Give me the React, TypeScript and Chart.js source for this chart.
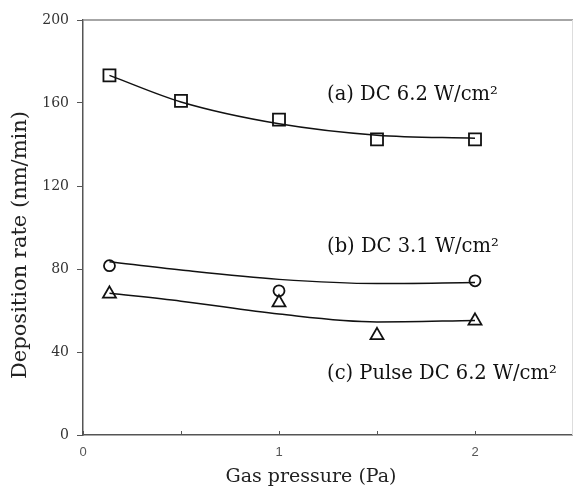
import React, { useEffect, useRef } from "react";
import { Chart, registerables } from "chart.js";

Chart.register(...registerables);

// Measured points
const pressureA = [0.135, 0.5, 1.0, 1.5, 2.0];
const rateA = [173.3, 161, 152, 142.5, 142.5];
const pressureB = [0.135, 1.0, 2.0];
const rateB = [81.6, 69.5, 74.3];
const pressureC = [0.135, 1.0, 1.5, 2.0];
const rateC = [68, 63.8, 48, 55];

// Fitted curves
const fitX = [0.135, 0.5, 1.0, 1.5, 2.0];
const fitA = [173.3, 160.5, 150, 144.5, 143];
const fitB = [83.5, 79.5, 75, 73, 73.5];
const fitC = [68.3, 64.5, 58.3, 54.5, 55.2];

// Labels
const seriesLabels = ["(a) DC 6.2 W/cm²", "(b) DC 3.1 W/cm²", "(c) Pulse DC 6.2 W/cm²"];
const labelX = [1.245, 1.245, 1.245];
const labelY = [163.9, 90.6, 29.4];
const xTitle = "Gas pressure (Pa)";
const yTitle = "Deposition rate (nm/min)";
const xTickValues = [0, 1, 2];
const yTickValues = [0, 40, 80, 120, 160, 200];

const SERIF = "'DejaVu Serif', 'Liberation Serif', serif";

const pts = (xs: number[], ys: number[]) => xs.map((x, i) => ({ x, y: ys[i] }));

const overlay = {
  id: "overlay",
  afterDraw(chart: any) {
    const { ctx, chartArea: a, scales } = chart;
    const xs = scales.x;
    const ys = scales.y;
    ctx.save();
    // frame top/right
    ctx.strokeStyle = "#888";
    ctx.lineWidth = 1.5;
    ctx.beginPath();
    ctx.moveTo(a.left, a.top);
    ctx.lineTo(a.right, a.top);
    ctx.stroke();
    ctx.strokeStyle = "#ddd";
    ctx.lineWidth = 1;
    ctx.beginPath();
    ctx.moveTo(a.right - 0.5, a.top);
    ctx.lineTo(a.right - 0.5, a.bottom);
    ctx.stroke();
    // x inward ticks
    ctx.strokeStyle = "#555";
    ctx.lineWidth = 1;
    for (const t of xs.ticks) {
      const px = Math.round(xs.getPixelForValue(t.value)) + 0.5;
      ctx.beginPath();
      ctx.moveTo(px, a.bottom);
      ctx.lineTo(px, a.bottom - 4);
      ctx.stroke();
    }
    // series labels
    ctx.fillStyle = "#111";
    ctx.font = `19.5px ${SERIF}`;
    ctx.textAlign = "left";
    ctx.textBaseline = "middle";
    seriesLabels.forEach((s, i) => {
      ctx.fillText(s, xs.getPixelForValue(labelX[i]), ys.getPixelForValue(labelY[i]));
    });
    // axis titles
    ctx.font = `19px ${SERIF}`;
    ctx.fillStyle = "#222";
    ctx.textAlign = "center";
    ctx.fillText(xTitle, a.left + 228, 477);
    ctx.translate(21, 245);
    ctx.rotate(-Math.PI / 2);
    ctx.font = `21px ${SERIF}`;
    ctx.fillText(yTitle, 0, 0);
    ctx.restore();
  },
};

export default function App() {
  const ref = useRef<HTMLCanvasElement | null>(null);
  useEffect(() => {
    document.body.style.margin = "0";
    const canvas = ref.current!;
    const markerCommon = {
      showLine: false,
      borderColor: "#111",
      backgroundColor: "rgba(255,255,255,0)",
      borderWidth: 1.8,
    };
    const fitCommon = {
      showLine: true,
      pointRadius: 0,
      borderColor: "#111",
      borderWidth: 1.5,
      cubicInterpolationMode: "monotone" as const,
      fill: false,
    };
    const chart = new Chart(canvas, {
      type: "scatter",
      data: {
        datasets: [
          { ...fitCommon, data: pts(fitX, fitA) },
          { ...fitCommon, data: pts(fitX, fitB) },
          { ...fitCommon, data: pts(fitX, fitC) },
          { ...markerCommon, data: pts(pressureA, rateA), pointStyle: "rect", pointRadius: 8.5 },
          { ...markerCommon, data: pts(pressureB, rateB), pointStyle: "circle", pointRadius: 5.5 },
          { ...markerCommon, data: pts(pressureC, rateC), pointStyle: "triangle", pointRadius: 7.5 },
        ] as any,
      },
      options: {
        animation: false,
        responsive: false,
        layout: { autoPadding: false, padding: { top: 20, right: 0, left: 0, bottom: 0 } },
        plugins: { legend: { display: false }, tooltip: { enabled: false } },
        scales: {
          x: {
            type: "linear",
            min: 0,
            max: 2.5,
            afterFit: (s: any) => {
              s.height = 54;
              s.paddingLeft = 0;
              s.paddingRight = 0;
            },
            border: { display: true, color: "#555", width: 1.5 },
            grid: { display: false, drawTicks: false },
            afterBuildTicks: (s: any) => {
              s.ticks = [0, 0.5, 1, 1.5, 2, 2.5].map((v) => ({ value: v }));
            },
            ticks: {
              padding: 10,
              autoSkip: false,
              maxRotation: 0,
              color: "#555",
              font: { family: "'Liberation Sans', Arial, sans-serif", size: 13 },
              callback: (v: any) => (xTickValues.includes(Number(v)) ? String(v) : ""),
            },
          },
          y: {
            type: "linear",
            min: 0,
            max: 200,
            afterFit: (s: any) => {
              s.width = 83;
              s.paddingTop = 0;
              s.paddingBottom = 0;
            },
            border: { display: true, color: "#555", width: 1.5 },
            grid: { drawOnChartArea: false, drawTicks: true, tickLength: 6, color: "#555" },
            afterBuildTicks: (s: any) => {
              s.ticks = yTickValues.map((v) => ({ value: v }));
            },
            ticks: {
              padding: 8,
              color: "#333",
              font: { family: SERIF, size: 14 },
            },
          },
        },
      },
      plugins: [overlay],
    });
    return () => chart.destroy();
  }, []);
  return (
    <div style={{ position: "fixed", left: 0, top: 0, width: 573, height: 489, background: "#fff" }}>
      <canvas ref={ref} width={573} height={489} style={{ width: 573, height: 489 }} />
    </div>
  );
}
